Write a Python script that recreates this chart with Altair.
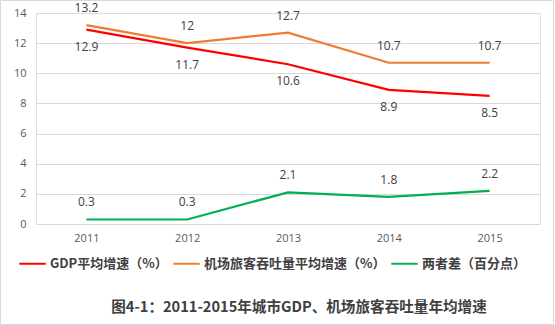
import altair as alt
import pandas as pd

years = ["2011", "2012", "2013", "2014", "2015"]
gdp = [12.9, 11.7, 10.6, 8.9, 8.5]
airport = [13.2, 12.0, 12.7, 10.7, 10.7]
diff = [0.3, 0.3, 2.1, 1.8, 2.2]
series_names = ["GDP平均增速（%）", "机场旅客吞吐量平均增速（%）", "两者差（百分点）"]
colors = ["#FF0000", "#ED7D31", "#00B050"]
y_ticks = [0, 2, 4, 6, 8, 10, 12, 14]
title_text = "图4-1：2011-2015年城市GDP、机场旅客吞吐量年均增速"

rows = []
for vals, name, pos in [(gdp, series_names[0], "below"), (airport, series_names[1], "above"), (diff, series_names[2], "above")]:
    for y, v in zip(years, vals):
        rows.append({"year": y, "value": v, "series": name, "pos": pos, "label": f"{v:g}"})
df = pd.DataFrame(rows)

W, H = 504, 211
x = alt.X("year:O", scale=alt.Scale(type="point", padding=0.5),
          axis=alt.Axis(title=None, labelAngle=0, domain=False, ticks=False,
                        labelColor="#595959", labelFontSize=11, labelPadding=8,
                        labelFont="Open Sans"))
y = alt.Y("value:Q", scale=alt.Scale(domain=[0, 14], nice=False),
          axis=alt.Axis(title=None, values=y_ticks, domain=False, ticks=False,
                        labelColor="#595959", labelFontSize=11, labelPadding=10,
                        gridColor="#D9D9D9", labelFont="Open Sans"))
color = alt.Color("series:N", scale=alt.Scale(domain=series_names, range=colors),
                  sort=series_names,
                  legend=alt.Legend(title=None, orient="none", direction="horizontal",
                                    legendX=-18, legendY=236, symbolType="stroke",
                                    symbolStrokeWidth=2, symbolSize=700,
                                    labelFont="Noto Sans CJK SC", labelFontWeight="bold",
                                    labelFontSize=13, labelColor="#404040",
                                    columnPadding=1, labelOffset=3, labelLimit=300))

base = alt.Chart(df)
lines = base.mark_line(strokeWidth=2.2).encode(x=x, y=y, color=color)
above = base.transform_filter(alt.datum.pos == "above").mark_text(
    dy=-17, fontSize=12, color="#404040", font="Open Sans").encode(x=x, y=y, text="label:N")
below = base.transform_filter(alt.datum.pos == "below").mark_text(
    dy=17, fontSize=12, color="#404040", font="Open Sans").encode(x=x, y=y, text="label:N")

border = alt.Chart(pd.DataFrame({"a": [0]})).mark_rect(
    fill=None, stroke="#D9D9D9", strokeWidth=1).encode(
    x=alt.value(-35.5), x2=alt.value(517.5), y=alt.value(-12.5), y2=alt.value(311.5))

chart = alt.layer(border, lines, above, below).properties(
    width=W, height=H,
    title=alt.TitleParams(title_text, orient="bottom", anchor="middle",
                          font="Noto Sans CJK SC", fontSize=14.6, fontWeight="bold",
                          color="#404040", offset=-25, dx=11),
    autosize=alt.AutoSizeParams(type="none"),
    padding={"left": 36, "top": 13, "right": 15, "bottom": 101},
).configure_view(stroke=None).configure(background="white")

chart.save("out.html", embed_options={"renderer": "svg", "actions": False})
